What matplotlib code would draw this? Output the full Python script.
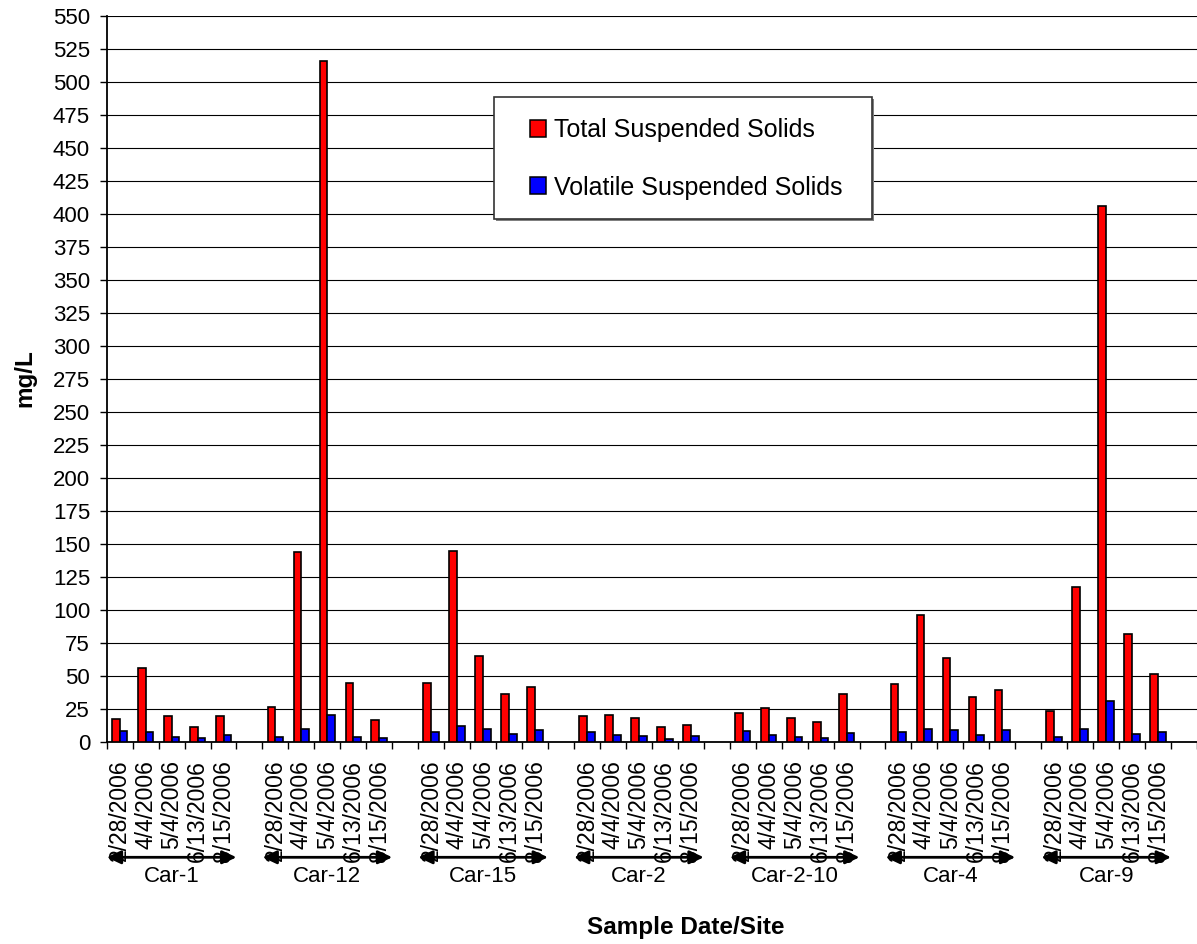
import numpy as np
import matplotlib
matplotlib.use('Agg')
from matplotlib import pyplot as plt
from matplotlib.patches import Patch, Rectangle

plt.rcParams['font.family'] = ['Liberation Sans', 'DejaVu Sans']

sites = ['Car-1', 'Car-12', 'Car-15', 'Car-2', 'Car-2-10', 'Car-4', 'Car-9']
dates = ['2/28/2006', '4/4/2006', '5/4/2006', '6/13/2006', '8/15/2006']

# mg/L, one row per site, columns follow dates
tss = [[17.4, 55.8, 19.5, 10.9, 19.2],
       [26.5, 143.9, 516, 44.2, 16.4],
       [44.7, 144.7, 64.7, 36.1, 41.4],
       [19.2, 20.0, 17.7, 11.4, 12.6],
       [21.7, 25.8, 17.7, 14.7, 36.1],
       [43.5, 96.2, 63.2, 34.1, 39.4],
       [23.0, 117, 406, 81.8, 51.5]]
vss = [[7.9, 7.1, 3.8, 2.5, 4.8],
       [3.8, 9.9, 20.0, 3.8, 3.0],
       [7.1, 11.9, 9.4, 5.8, 9.1],
       [7.3, 4.8, 4.3, 2.0, 4.3],
       [8.1, 5.1, 3.8, 2.8, 6.8],
       [7.3, 9.4, 8.9, 5.3, 8.9],
       [3.3, 9.9, 30.8, 5.8, 7.3]]

W, H = 1197, 944
fig = plt.figure(figsize=(W / 100, H / 100), dpi=100)
x0, y0, y1 = 106.7, 741.7, 15.7
ax = fig.add_axes([x0 / W, (H - y0) / H, (W - x0) / W, (y0 - y1) / H])

step = len(dates) + 1
pos = np.array([g * step + j for g in range(len(sites)) for j in range(len(dates))])
tss_flat = np.array(tss).ravel()
vss_flat = np.array(vss).ravel()

bw = 0.3
ax.bar(pos - bw / 2, tss_flat, width=bw, color='#ff0000', edgecolor='black',
       linewidth=1.2, zorder=3)
ax.bar(pos + bw / 2, vss_flat, width=bw, color='#0000ff', edgecolor='black',
       linewidth=1.2, zorder=3)

slot_px = 26.62
ax.set_xlim(-0.5, -0.5 + (W - x0) / slot_px)
ax.set_ylim(0, 550)
ax.set_yticks(np.arange(0, 551, 25))
ax.yaxis.grid(True, color='black', linewidth=0.8, zorder=0)
ax.set_axisbelow(True)

ax.set_xticks(pos)
ax.set_xticklabels(dates * len(sites), rotation=90, va='top', ha='center')
ax.set_xticks(np.arange(-0.5, len(sites) * step, 1), minor=True)
ax.tick_params(axis='x', which='major', length=0, pad=13, labelsize=16.5)
ax.tick_params(axis='x', which='minor', length=5, width=1, direction='out')
ax.tick_params(axis='y', length=5, width=1, pad=7, labelsize=16)

for s in ['top', 'right']:
    ax.spines[s].set_visible(False)
ax.spines['left'].set_linewidth(1.3)
ax.spines['bottom'].set_linewidth(1.3)

# site brackets under the date labels
tr = ax.get_xaxis_transform()
arrow_y = (y0 - 857.3) / (y0 - y1)
name_y = (y0 - 881.7) / (y0 - y1)
for g, name in enumerate(sites):
    left = g * step - 0.5
    right = left + len(dates)
    ax.annotate('', xy=(left, arrow_y), xytext=(right, arrow_y), xycoords=tr,
                textcoords=tr, annotation_clip=False, zorder=5,
                arrowprops=dict(arrowstyle='<|-|>,head_length=0.85,head_width=0.4',
                                color='black', lw=2, shrinkA=0, shrinkB=0))
    ax.text((left + right) / 2, name_y, name, transform=tr, ha='center',
            va='baseline', fontsize=16, clip_on=False)

fig.text(686 / W, 1 - 934 / H, 'Sample Date/Site', ha='center', va='baseline',
         fontsize=17.5, fontweight='bold')
fig.text(25 / W, 1 - 378 / H, 'mg/L', ha='center', va='center', rotation=90,
         fontsize=17.5, fontweight='bold')

# legend box
bx0, by0, bx1, by1 = 494.3, 97.3, 872.3, 219.3
fig.patches.append(Rectangle(((bx0 + 2) / W, 1 - (by1 + 2) / H), (bx1 - bx0) / W,
                             (by1 - by0) / H, transform=fig.transFigure,
                             facecolor='#808080', edgecolor='none', zorder=4))
fig.patches.append(Rectangle((bx0 / W, 1 - by1 / H), (bx1 - bx0) / W,
                             (by1 - by0) / H, transform=fig.transFigure,
                             facecolor='white', edgecolor='#333333', lw=1.2,
                             zorder=5))
handles = [Patch(facecolor='#ff0000', edgecolor='black', lw=1.1),
           Patch(facecolor='#0000ff', edgecolor='black', lw=1.1)]
leg = fig.legend(handles, ['Total Suspended Solids', 'Volatile Suspended Solids'],
                 loc='center', bbox_to_anchor=(686 / W, 1 - 158.8 / H),
                 frameon=False, fontsize=18, handlelength=0.66,
                 handleheight=0.66, handletextpad=0.32, labelspacing=1.35)
leg.set_zorder(6)

fig.savefig('out.png', dpi=100)
